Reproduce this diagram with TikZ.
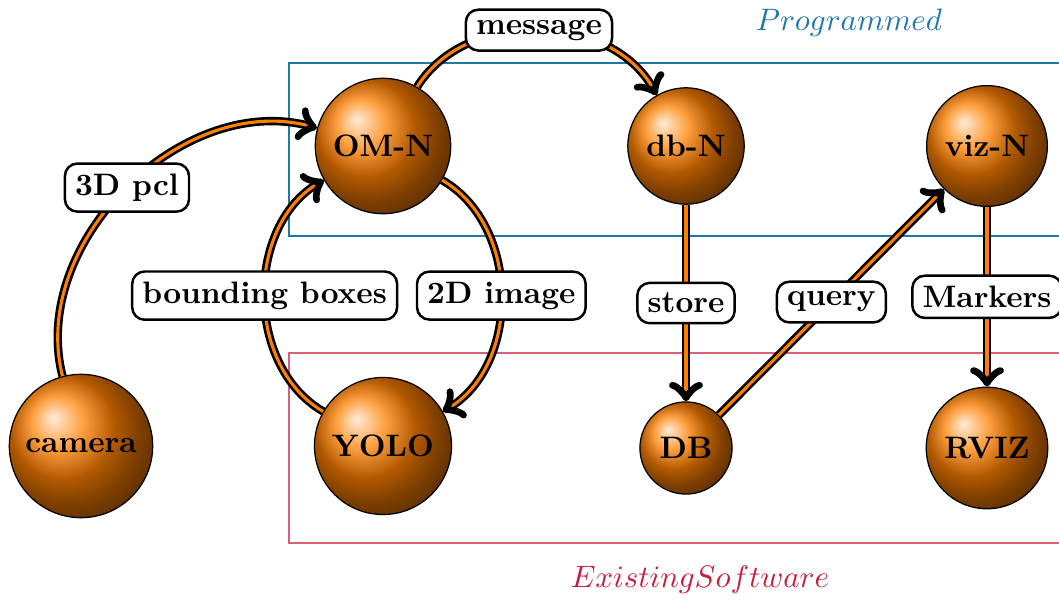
\documentclass[tikz,border=0pt]{standalone}
\definecolor{progblue}{RGB}{31,119,170}
\definecolor{softred}{RGB}{200,30,60}
\begin{document}
\begin{tikzpicture}[x=0.11331mm, y=-0.11331mm,
  ball/.style={circle, draw=black, shading=ball, ball color=orange,
    inner sep=0.15cm, font=\bfseries, text=black},
  conn/.style={->, line width=0.85pt, double=orange, double distance=1pt},
  lbl/.style={draw, thick, rounded corners=4pt, fill=white,
    font=\bfseries, inner sep=3.3pt},
  zone/.style={line width=0.4pt}]
\path[use as bounding box, clip] (0,0) rectangle (1059,601);

% grouping frames
\draw[zone, progblue] (289,63) rectangle (1090,236);
\draw[zone, softred!70] (289,353) rectangle (1090,543);
\node[progblue] (prog) at (849,23) {$Programmed$};
\node[softred] (exist) at (700,580) {$ExistingSoftware$};

% components
\node[ball] (cam)  at (81,446)  {camera};
\node[ball] (om)   at (383,146) {OM-N};
\node[ball] (yolo) at (383,446) {YOLO};
\node[ball] (dbn)  at (686,146) {db-N};
\node[ball] (db)   at (686,448) {DB};
\node[ball] (viz)  at (987,146) {viz-N};
\node[ball] (rviz) at (987,448) {RVIZ};

% data flow
\draw[conn] (cam)  to[bend left=60] node[lbl] {3D pcl} (om);
\draw[conn] (om)   to[bend left=60] node[lbl] {message} (dbn);
\draw[conn] (om)   to[bend left=60] node[lbl] {2D image} (yolo);
\draw[conn] (yolo) to[bend left=60] node[lbl] {bounding boxes} (om);
\draw[conn] (dbn) -- node[lbl] {store} (db);
\draw[conn] (db)  -- node[lbl] {query} (viz);
\draw[conn] (viz) -- node[lbl] {Markers} (rviz);
\end{tikzpicture}
\end{document}
